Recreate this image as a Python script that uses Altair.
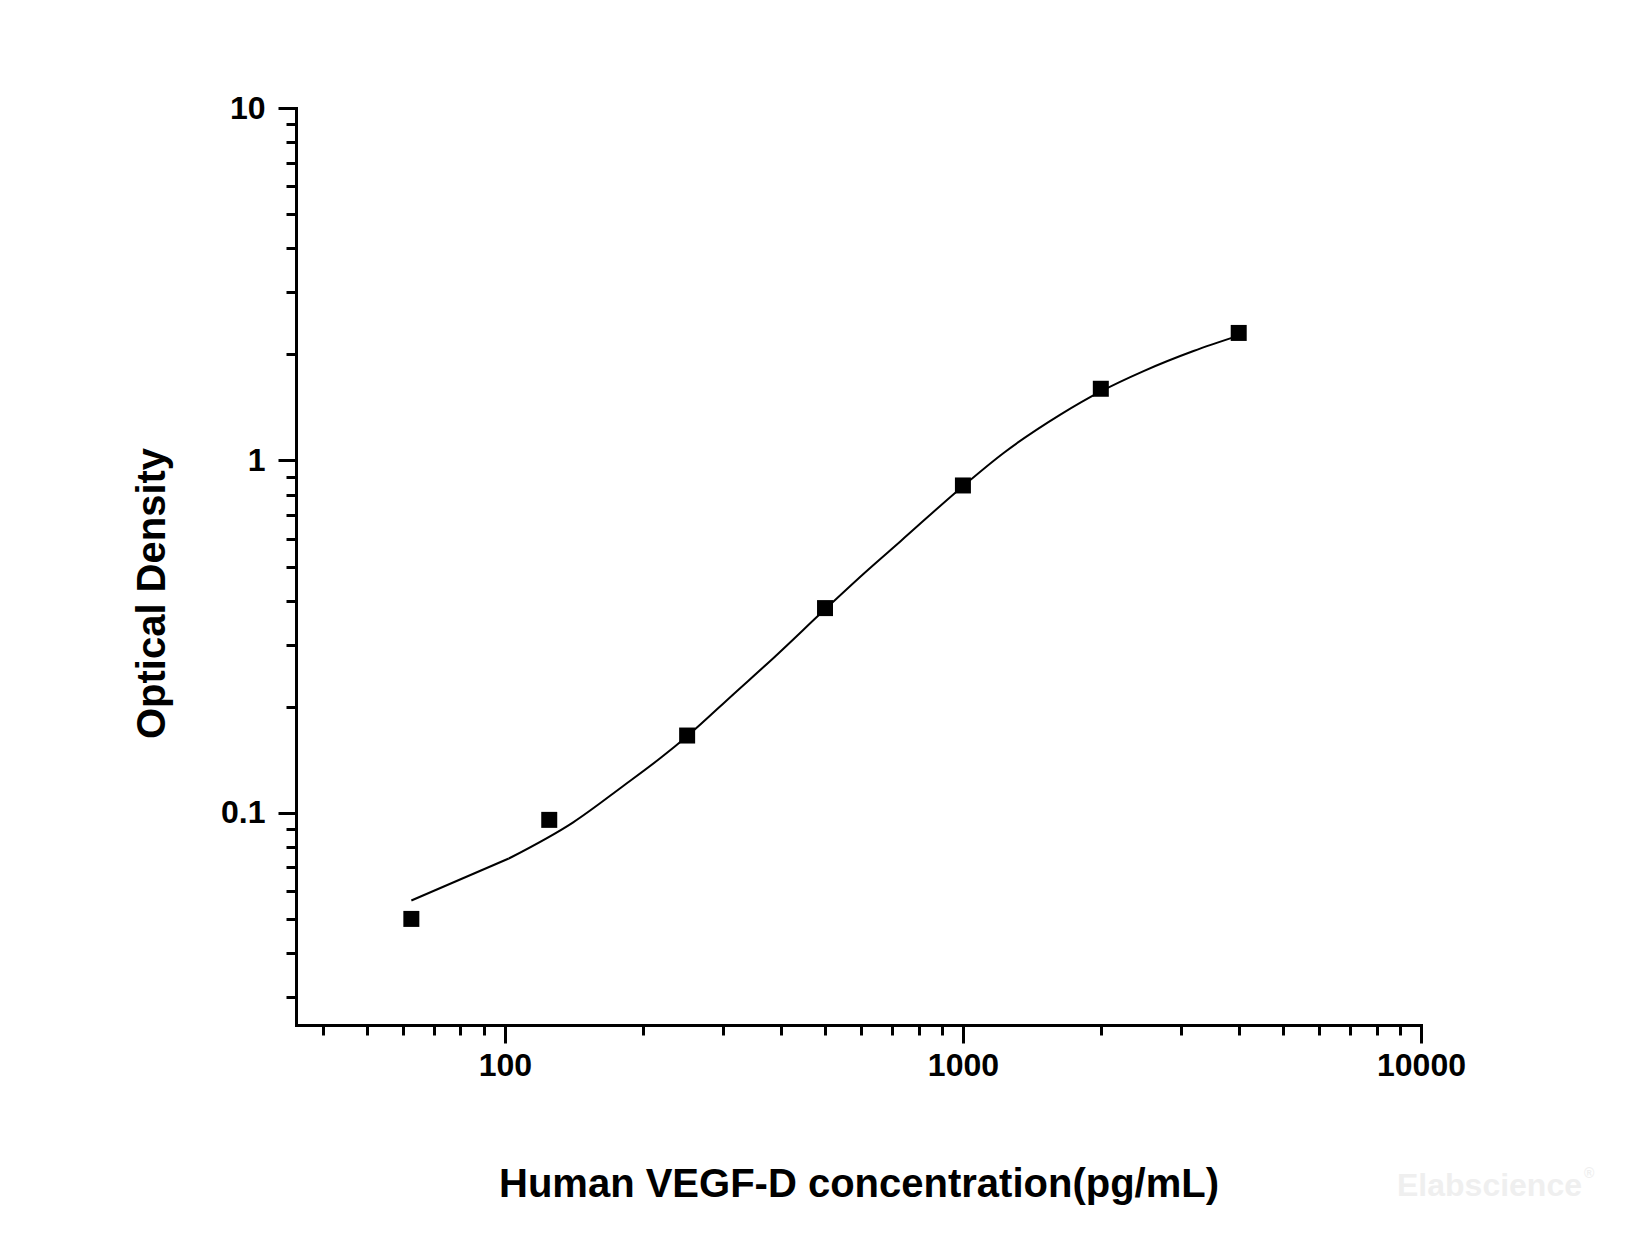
import altair as alt
import pandas as pd

# Measured standards (concentration pg/mL, optical density)
conc = [62.5, 125, 250, 500, 1000, 2000, 4000]
od = [0.050, 0.0955, 0.1657, 0.381, 0.849, 1.597, 2.30]

# Fitted curve, vertices
curve_x = [62.5, 102, 141, 181, 220, 250, 316, 387, 500, 608, 731, 1000, 1227, 1632, 2000, 2480, 3187, 4000]
curve_y = [0.0564, 0.0742, 0.094, 0.119, 0.144, 0.165, 0.2175, 0.276, 0.378, 0.478, 0.59, 0.845, 1.05, 1.349, 1.57, 1.793, 2.044, 2.26]

# Axis ticks
x_ticks = [40, 50, 60, 70, 80, 90, 100, 200, 300, 400, 500, 600, 700, 800, 900, 1000,
           2000, 3000, 4000, 5000, 6000, 7000, 8000, 9000, 10000]
x_major = [100, 1000, 10000]
y_ticks = [0.03, 0.04, 0.05, 0.06, 0.07, 0.08, 0.09, 0.1, 0.2, 0.3, 0.4, 0.5, 0.6, 0.7, 0.8, 0.9,
           1, 2, 3, 4, 5, 6, 7, 8, 9, 10]
y_major = [0.1, 1, 10]

x_title = "Human VEGF-D concentration(pg/mL)"
y_title = "Optical Density"
watermark = "Elabscience"
watermark_mark = "\u00ae"

FONT = "Liberation Sans"

pts = pd.DataFrame({"conc": conc, "od": od})
fit = pd.DataFrame({"conc": curve_x, "od": curve_y})
fit_first = fit.iloc[:2]
fit_rest = fit.iloc[1:]


def major_test(vals):
    return "indexof([" + ",".join(str(v) for v in vals) + "], datum.value) >= 0"


x_scale = alt.Scale(type="log", domain=[35, 10000], nice=False)
y_scale = alt.Scale(type="log", domain=[0.025, 10], nice=False)

common_axis = dict(
    grid=False,
    domainColor="black",
    domainWidth=3,
    domainCap="square",
    tickColor="black",
    tickWidth=3,
    labelFont=FONT,
    labelFontSize=32,
    labelFontWeight="bold",
    labelColor="black",
    labelOverlap=False,
    labelFlush=False,
    labelBound=False,
    titleFont=FONT,
    titleFontSize=40,
    titleFontWeight="bold",
    titleColor="black",
)

x_axis = alt.Axis(
    values=x_ticks,
    labelExpr=major_test(x_major) + " ? format(datum.value, '~g') : ''",
    tickSize={"condition": {"test": major_test(x_major), "value": 18}, "value": 10},
    labelPadding=7,
    title=x_title,
    titleY=171,
    titleBaseline="alphabetic",
    **common_axis,
)

y_axis = alt.Axis(
    values=y_ticks,
    labelExpr=major_test(y_major) + " ? format(datum.value, '~g') : ''",
    tickSize={"condition": {"test": major_test(y_major), "value": 18}, "value": 10},
    labelPadding=13,
    title=y_title,
    titleX=-144,
    titleY=485,
    titleAngle=270,
    titleAlign="center",
    titleBaseline="middle",
    **common_axis,
)

line1 = alt.Chart(fit_first).mark_line(color="black", strokeWidth=2, interpolate="linear").encode(
    x=alt.X("conc:Q", scale=x_scale, axis=x_axis),
    y=alt.Y("od:Q", scale=y_scale, axis=y_axis),
    order="conc:Q",
)

line2 = alt.Chart(fit_rest).mark_line(color="black", strokeWidth=2, interpolate="monotone").encode(
    x=alt.X("conc:Q", scale=x_scale),
    y=alt.Y("od:Q", scale=y_scale),
    order="conc:Q",
)

points = alt.Chart(pts).mark_point(
    shape="square", filled=True, size=256, color="black", opacity=1
).encode(
    x=alt.X("conc:Q", scale=x_scale),
    y=alt.Y("od:Q", scale=y_scale),
)

wm = alt.Chart(pd.DataFrame({"t": [watermark]})).mark_text(
    font=FONT, fontSize=32, fontWeight="bold", color="#efefef", align="left", baseline="alphabetic"
).encode(
    text="t:N",
    x=alt.value(1101),
    y=alt.value(1088),
)

wm_r = alt.Chart(pd.DataFrame({"t": [watermark_mark]})).mark_text(
    font=FONT, fontSize=14, fontWeight="bold", color="#efefef", align="left", baseline="alphabetic"
).encode(
    text="t:N",
    x=alt.value(1288),
    y=alt.value(1070),
)

chart = alt.layer(line1, line2, points, wm, wm_r).properties(
    width=1125,
    height=917,
    autosize=alt.AutoSizeParams(type="none"),
    padding={"left": 288, "top": 100, "right": 200, "bottom": 190},
    background="white",
).configure_view(stroke=None)

chart.save("out.html", embed_options={"renderer": "svg", "actions": False})
